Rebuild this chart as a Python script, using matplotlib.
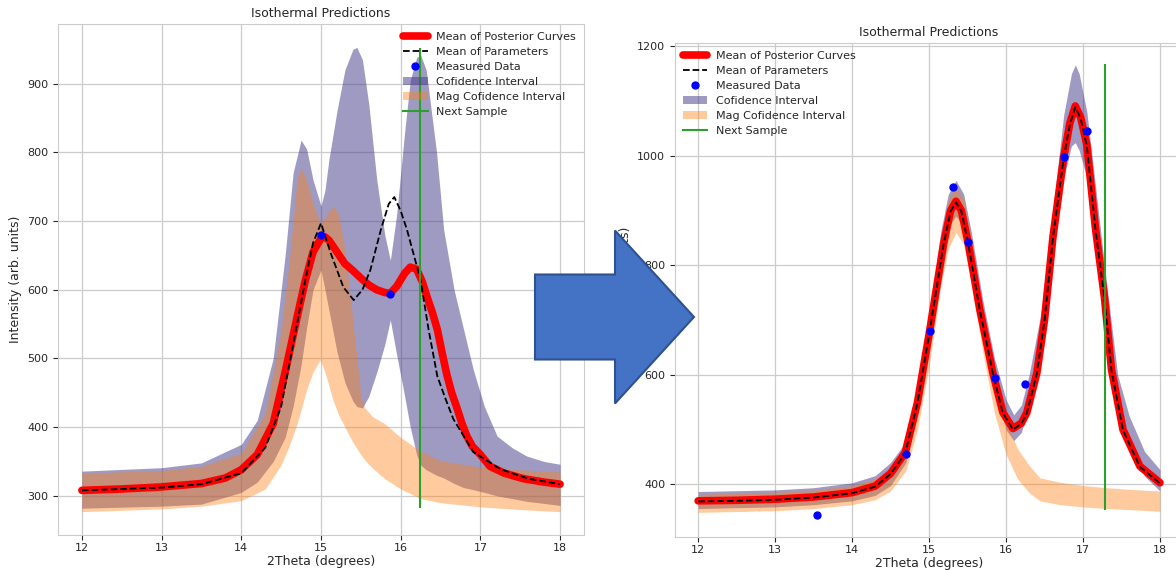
"""
Isothermal Predictions: before / after comparison
Two fits side by side with a big arrow between them
"""

import matplotlib
matplotlib.use('Agg')
import matplotlib.pyplot as plt
from matplotlib.patches import FancyArrow, Patch
from matplotlib.lines import Line2D
from matplotlib.transforms import IdentityTransform

plt.rcParams['font.family'] = ['DejaVu Sans']
plt.rcParams['text.color'] = '.15'
plt.rcParams['axes.labelcolor'] = '.15'
plt.rcParams['xtick.color'] = '.15'
plt.rcParams['ytick.color'] = '.15'
plt.rcParams['axes.edgecolor'] = '.8'
plt.rcParams['grid.color'] = '.8'

# ======================== left panel (before) ========================
mean_x_l = [12.0, 12.5, 13.0, 13.5, 13.8, 14.0, 14.2, 14.4, 14.55, 14.7, 14.8, 14.9,
            15.0, 15.05, 15.1, 15.2, 15.3, 15.4, 15.5, 15.6, 15.7, 15.8, 15.87, 15.95,
            16.05, 16.12, 16.2, 16.27, 16.33, 16.4, 16.46, 16.52, 16.58, 16.64, 16.7,
            16.77, 16.83, 16.9, 17.0, 17.12, 17.3, 17.54, 17.8, 18.0]
mean_y_l = [308, 310, 313, 318, 326, 338, 360, 405, 480, 560, 612, 655,
            675, 677, 672, 655, 638, 628, 617, 607, 600, 596, 595, 605,
            624, 633, 630, 612, 590, 566, 542, 508, 476, 450, 430,
            405, 387, 372, 360, 343, 333, 325, 320, 317]

param_x_l = [12.0, 13.0, 13.5, 14.0, 14.3, 14.5, 14.65, 14.8, 14.9, 15.0, 15.12, 15.28,
             15.41, 15.52, 15.62, 15.75, 15.85, 15.92, 16.0, 16.08, 16.25, 16.35, 16.46,
             16.56, 16.66, 16.91, 17.25, 17.6, 18.0]
param_y_l = [308, 312, 317, 333, 370, 430, 520, 612, 668, 697, 654, 604,
             585, 600, 629, 687, 725, 735, 715, 687, 614, 542, 474,
             442, 412, 364, 339, 325, 317]

ci_x_l = [12.0, 13.0, 13.5, 14.0, 14.2, 14.4, 14.55, 14.65, 14.75, 14.82, 14.9, 15.0,
          15.05, 15.1, 15.2, 15.3, 15.4, 15.45, 15.52, 15.6, 15.7, 15.8, 15.87, 15.95,
          16.05, 16.12, 16.2, 16.25, 16.32, 16.45, 16.54, 16.67, 16.79, 16.91, 17.05,
          17.21, 17.4, 17.58, 17.8, 18.0]
ci_hi_l = [336, 341, 348, 375, 410, 500, 650, 770, 818, 805, 760, 722,
           745, 790, 860, 920, 950, 953, 935, 870, 760, 680, 643, 710,
           830, 905, 938, 942, 920, 800, 687, 600, 542, 484, 430,
           387, 370, 358, 350, 346]
ci_lo_l = [282, 285, 288, 305, 320, 350, 385, 430, 490, 545, 600, 629,
           600, 570, 510, 465, 438, 430, 428, 445, 480, 520, 556, 505,
           445, 400, 360, 345, 338, 330, 326, 318, 312, 309, 305,
           300, 296, 292, 289, 286]

mag_x_l = [12.0, 13.0, 13.5, 14.0, 14.3, 14.5, 14.6, 14.7, 14.75, 14.82, 14.9, 14.99,
           15.05, 15.15, 15.22, 15.3, 15.4, 15.5, 15.55, 15.65, 15.8, 16.0, 16.25,
           16.5, 17.0, 17.5, 18.0]
mag_hi_l = [333, 337, 343, 362, 420, 540, 640, 760, 778, 760, 725, 697,
            705, 722, 710, 660, 555, 445, 428, 415, 405, 385, 365,
            351, 342, 338, 335]
mag_lo_l = [277, 281, 285, 293, 310, 345, 372, 405, 425, 455, 480, 498,
            480, 440, 418, 400, 378, 360, 352, 340, 325, 310, 296,
            290, 284, 280, 277]

data_x_l = [15.0, 15.86]
data_y_l = [680, 594]

next_x_l = 16.24
next_span_l = (282, 952)

# ======================== right panel (after) ========================
mean_x_r = [12.0, 12.5, 13.0, 13.5, 14.0, 14.3, 14.5, 14.69, 14.85, 15.01, 15.19, 15.28,
            15.35, 15.42, 15.51, 15.66, 15.83, 15.96, 16.09, 16.2, 16.27, 16.4, 16.5,
            16.61, 16.75, 16.83, 16.9, 16.97, 17.05, 17.16, 17.28, 17.37, 17.52, 17.74,
            18.0]
mean_y_r = [370, 371, 373, 377, 385, 397, 420, 458, 550, 682, 840, 900,
            917, 900, 840, 719, 603, 531, 502, 512, 531, 603, 700,
            852, 998, 1060, 1091, 1070, 1020, 870, 740, 610, 500, 433,
            403]
param_y_r = [369, 370, 372, 376, 384, 396, 419, 457, 549, 681, 839, 899,
             915, 899, 839, 718, 602, 530, 500, 511, 530, 602, 699,
             851, 997, 1058, 1089, 1068, 1018, 868, 738, 608, 499, 432,
             402]

ci_x_r = [12.0, 13.0, 13.5, 14.0, 14.3, 14.5, 14.7, 14.85, 15.0, 15.15, 15.25, 15.35,
          15.45, 15.55, 15.7, 15.85, 16.0, 16.1, 16.2, 16.3, 16.45, 16.6, 16.75, 16.85,
          16.9, 16.95, 17.05, 17.15, 17.3, 17.45, 17.6, 17.8, 18.0]
ci_hi_r = [387, 390, 394, 403, 416, 440, 478, 570, 700, 860, 930, 955,
           930, 860, 735, 630, 555, 527, 545, 600, 710, 890, 1075, 1150,
           1166, 1150, 1080, 960, 775, 600, 525, 460, 427]
ci_lo_r = [356, 359, 363, 370, 380, 398, 440, 530, 660, 810, 870, 890,
           870, 810, 690, 575, 500, 480, 495, 545, 660, 820, 960, 1018,
           1024, 1010, 960, 840, 700, 560, 480, 415, 388]

mag_x_r = [12.0, 13.0, 13.5, 14.0, 14.3, 14.5, 14.7, 14.85, 15.0, 15.15, 15.25, 15.35,
           15.45, 15.55, 15.7, 15.85, 16.0, 16.15, 16.3, 16.44, 16.7, 17.0, 17.31,
           17.6, 18.0]
mag_hi_r = [382, 386, 390, 398, 410, 430, 470, 560, 690, 850, 920, 942,
            920, 850, 720, 600, 515, 465, 435, 412, 404, 398, 394,
            391, 388]
mag_lo_r = [349, 352, 356, 363, 372, 388, 425, 500, 615, 760, 830, 860,
            838, 770, 640, 530, 455, 410, 385, 370, 363, 359, 356,
            354, 351]

data_x_r = [13.55, 14.70, 15.01, 15.305, 15.50, 15.86, 16.25, 16.75, 17.05]
data_y_r = [345, 455, 681, 943, 842, 594, 583, 998, 1046]

next_x_r = 17.29
next_span_r = (354, 1168)

CI_COLOR = 'darkslateblue'
MAG_COLOR = 'tab:orange'


def draw_panel(ax, d, legend_loc):
    """画一个面板：两个置信带 + 均值曲线 + 参数均值 + 测量点 + 下一采样点"""
    ax.fill_between(d['ci_x'], d['ci_lo'], d['ci_hi'], color=CI_COLOR,
                    alpha=0.52, linewidth=0)
    ax.fill_between(d['mag_x'], d['mag_lo'], d['mag_hi'], color=MAG_COLOR,
                    alpha=0.4, linewidth=0)
    ax.plot(d['mean_x'], d['mean_y'], color='red', linewidth=5.5,
            solid_capstyle='round', solid_joinstyle='round')
    ax.plot(d['param_x'], d['param_y'], 'k--', linewidth=1.3)
    ax.plot(d['data_x'], d['data_y'], 'o', color='blue', markersize=5)
    ax.vlines(d['next_x'], d['next_span'][0], d['next_span'][1],
              color='tab:green', linewidth=1.5)

    ax.set_title('Isothermal Predictions', fontsize=9, pad=5)
    ax.set_xlabel('2Theta (degrees)', fontsize=9, labelpad=1)
    ax.set_ylabel('Intensity (arb. units)', fontsize=9)
    ax.set_xlim(11.7, 18.3)
    ax.set_xticks(range(12, 19))
    ax.tick_params(labelsize=8, length=3.5, width=0.8)
    ax.tick_params(axis='x', pad=2.5)
    ax.grid(True, linewidth=0.9)
    ax.set_axisbelow(True)

    handles = [
        Line2D([], [], color='red', linewidth=5.5, solid_capstyle='round'),
        Line2D([], [], color='k', linestyle='--', linewidth=1.3),
        Line2D([], [], color='blue', marker='o', linestyle='none', markersize=5),
        Patch(facecolor=CI_COLOR, alpha=0.52),
        Patch(facecolor=MAG_COLOR, alpha=0.4),
        Line2D([], [], color='tab:green', linewidth=1.5),
    ]
    labels = ['Mean of Posterior Curves', 'Mean of Parameters', 'Measured Data',
              'Cofidence Interval', 'Mag Cofidence Interval', 'Next Sample']
    ax.legend(handles, labels, loc=legend_loc, frameon=False, fontsize=8,
              handlelength=2.2, labelspacing=0.45, borderaxespad=0.3)


fig = plt.figure(figsize=(11.76, 5.70), dpi=100)

ax_l = fig.add_axes([0.0493, 0.0614, 0.4473, 0.8965])
draw_panel(ax_l, dict(mean_x=mean_x_l, mean_y=mean_y_l,
                      param_x=param_x_l, param_y=param_y_l,
                      ci_x=ci_x_l, ci_lo=ci_lo_l, ci_hi=ci_hi_l,
                      mag_x=mag_x_l, mag_lo=mag_lo_l, mag_hi=mag_hi_l,
                      data_x=data_x_l, data_y=data_y_l,
                      next_x=next_x_l, next_span=next_span_l), 'upper right')
ax_l.set_ylim(243, 987)
ax_l.set_yticks(range(300, 1000, 100))

ax_r = fig.add_axes([0.574, 0.0579, 0.432, 0.8667])
draw_panel(ax_r, dict(mean_x=mean_x_r, mean_y=mean_y_r,
                      param_x=mean_x_r, param_y=param_y_r,
                      ci_x=ci_x_r, ci_lo=ci_lo_r, ci_hi=ci_hi_r,
                      mag_x=mag_x_r, mag_lo=mag_lo_r, mag_hi=mag_hi_r,
                      data_x=data_x_r, data_y=data_y_r,
                      next_x=next_x_r, next_span=next_span_r), 'upper left')
ax_r.set_ylim(304, 1206)
ax_r.set_yticks(range(400, 1201, 200))

# 中间的大箭头（像素坐标）
arrow = FancyArrow(535, 253, 159, 0, width=85, head_width=173, head_length=79,
                   length_includes_head=True, facecolor='#4472c4',
                   edgecolor='#2f528f', linewidth=1.5,
                   transform=IdentityTransform(), zorder=10)
fig.add_artist(arrow)

fig.savefig('out.png', dpi=100)
plt.close(fig)
